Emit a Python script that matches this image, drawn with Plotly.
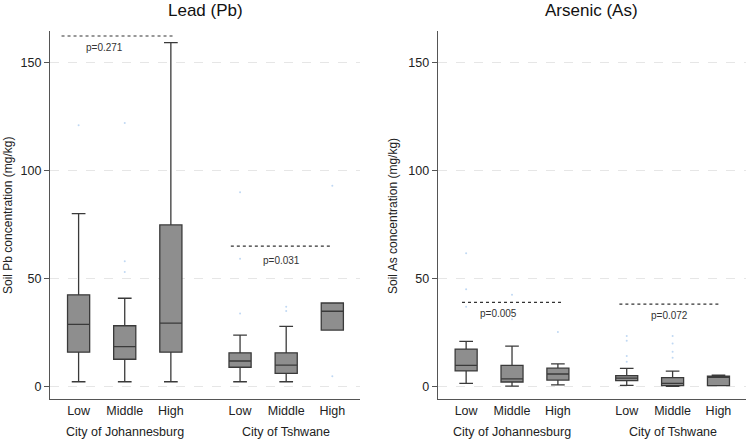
import plotly.graph_objects as go

# ---------------- data ----------------
categories = ["Low", "Middle", "High", "Low", "Middle", "High"]
groups = ["City of Johannesburg", "City of Tshwane"]
positions = [0, 1, 2, 3.5, 4.5, 5.5]
group_centers = [1, 4.5]

# Lead (Pb)
pb_lower = [2.3, 2.3, 2.3, 2.3, 2.3, 26.2]
pb_q1 = [16.0, 12.7, 16.0, 9.0, 6.2, 26.2]
pb_median = [28.8, 18.5, 29.4, 11.9, 10.0, 34.9]
pb_q3 = [42.5, 28.2, 74.8, 15.7, 15.7, 38.7]
pb_upper = [80.0, 40.9, 159.0, 23.9, 27.9, 38.7]
pb_out_x = [0, 1, 1, 1, 3.5, 3.5, 3.5, 4.5, 4.5, 5.5, 5.5]
pb_out_y = [120.8, 121.9, 58.0, 53.0, 89.9, 59.2, 33.9, 37.0, 35.0, 92.9, 4.9]

# Arsenic (As)
as_lower = [1.6, 0.3, 0.9, 0.6, 0.2, 0.5]
as_q1 = [7.3, 2.2, 3.1, 2.8, 0.5, 0.5]
as_median = [9.9, 3.6, 5.9, 4.0, 1.6, 4.3]
as_q3 = [17.4, 9.9, 8.6, 5.1, 4.2, 4.9]
as_upper = [21.0, 18.8, 10.6, 8.5, 7.2, 5.4]
as_out_x = [0, 0, 0, 1, 1, 2, 3.5, 3.5, 3.5, 3.5, 4.5, 4.5, 4.5, 4.5]
as_out_y = [61.7, 45.0, 37.0, 42.5, 31.2, 25.3, 23.4, 21.3, 14.2, 11.6, 23.4, 20.0, 16.2, 13.4]

# significance brackets (per panel: JHB, Tshwane)
pb_sig_y = [162.1, 65.0]
pb_sig_x0 = [-0.37, 3.30]
pb_sig_x1 = [2.04, 5.48]
pb_p_text = ["p=0.271", "p=0.031"]
pb_p_x = [0.57, 4.39]
pb_p_y = [157.0, 58.4]

as_sig_y = [39.0, 38.2]
as_sig_x0 = [-0.09, 3.34]
as_sig_x1 = [2.12, 5.55]
as_p_text = ["p=0.005", "p=0.072"]
as_p_x = [0.71, 4.44]
as_p_y = [33.9, 32.8]

titles = ["Lead (Pb)", "Arsenic (As)"]
ytitles = ["Soil Pb concentration (mg/kg)", "Soil As concentration (mg/kg)"]
yticks = [0, 50, 100, 150]

# ---------------- figure ----------------
W, H = 747, 439
FONT = "Liberation Sans, Arial, sans-serif"
BOX_FILL = "#8e8e8e"
BOX_LINE = "#3a3a3a"
OUT_COLOR = "rgba(150,190,235,0.6)"

fig = go.Figure()

panels = [
    dict(xa="x", ya="y", lower=pb_lower, q1=pb_q1, med=pb_median, q3=pb_q3, upper=pb_upper,
         ox=pb_out_x, oy=pb_out_y, sy=pb_sig_y, sx0=pb_sig_x0, sx1=pb_sig_x1,
         pt=pb_p_text, px=pb_p_x, py=pb_p_y),
    dict(xa="x2", ya="y2", lower=as_lower, q1=as_q1, med=as_median, q3=as_q3, upper=as_upper,
         ox=as_out_x, oy=as_out_y, sy=as_sig_y, sx0=as_sig_x0, sx1=as_sig_x1,
         pt=as_p_text, px=as_p_x, py=as_p_y),
]

for p in panels:
    fig.add_trace(go.Box(
        x=positions, q1=p["q1"], median=p["med"], q3=p["q3"],
        lowerfence=p["lower"], upperfence=p["upper"],
        width=0.48, whiskerwidth=0.62, boxpoints=False,
        fillcolor=BOX_FILL, line=dict(color=BOX_LINE, width=1.3),
        xaxis=p["xa"], yaxis=p["ya"], showlegend=False, hoverinfo="skip",
    ))
    fig.add_trace(go.Scatter(
        x=p["ox"], y=p["oy"], mode="markers",
        marker=dict(size=2, color=OUT_COLOR),
        xaxis=p["xa"], yaxis=p["ya"], showlegend=False, hoverinfo="skip",
    ))
    for i in range(len(p["sy"])):
        fig.add_shape(type="line", xref=p["xa"], yref=p["ya"],
                      x0=p["sx0"][i], x1=p["sx1"][i], y0=p["sy"][i], y1=p["sy"][i],
                      line=dict(color="#333333", width=1.2, dash="dot"))
        fig.add_annotation(xref=p["xa"], yref=p["ya"], x=p["px"][i], y=p["py"][i],
                           text=p["pt"][i], showarrow=False,
                           font=dict(family=FONT, size=10, color="#333333"))

ydom = [(H - 399.3) / H, (H - 31) / H]
xdoms = [[50 / W, 360 / W], [437.7 / W, 746 / W]]
yrange = [-5.8, 164.4]
xrange = [-0.62, 6.1]

axis_common_x = dict(range=xrange, tickvals=positions, ticktext=categories,
                     showline=True, linecolor="#555555", linewidth=1.2,
                     showgrid=False, zeroline=False, ticks="", ticklen=0,
                     tickfont=dict(family=FONT, size=12.5, color="#222222"))
axis_common_y = dict(range=yrange, tickvals=yticks, showline=True, linecolor="#555555",
                     linewidth=1.2, showgrid=True, gridcolor="#e6e6e6", griddash="dash",
                     gridwidth=1, zeroline=False, ticks="outside", ticklen=5,
                     tickcolor="#555555", tickwidth=1,
                     tickfont=dict(family=FONT, size=12.5, color="#222222"))

fig.update_layout(
    width=W, height=H, margin=dict(l=0, r=0, t=0, b=0),
    paper_bgcolor="white", plot_bgcolor="white",
    xaxis=dict(domain=xdoms[0], anchor="y", **axis_common_x),
    yaxis=dict(domain=ydom, anchor="x", **axis_common_y),
    xaxis2=dict(domain=xdoms[1], anchor="y2", **axis_common_x),
    yaxis2=dict(domain=ydom, anchor="x2", **axis_common_y),
)

# titles
for t, xa in zip(titles, ["x", "x2"]):
    fig.add_annotation(xref=f"{xa} domain", yref="paper", x=0.5, y=1 - 10.5 / H,
                       text=t, showarrow=False, yanchor="middle",
                       font=dict(family=FONT, size=17, color="#111111"))

# y-axis titles
ytitle_x = [8 / W, 393 / W]
for t, xx in zip(ytitles, ytitle_x):
    fig.add_annotation(xref="paper", yref="paper", x=xx, y=(H - 216) / H,
                       text=t, textangle=-90, showarrow=False,
                       xanchor="center", yanchor="middle",
                       font=dict(family=FONT, size=12, color="#222222"))

# group labels under categories
for xa in ["x", "x2"]:
    for g, c in zip(groups, group_centers):
        fig.add_annotation(xref=xa, yref="paper", x=c, y=(H - 431.5) / H,
                           text=g, showarrow=False, yanchor="middle",
                           font=dict(family=FONT, size=12.5, color="#222222"))

fig.write_html("out.html")
